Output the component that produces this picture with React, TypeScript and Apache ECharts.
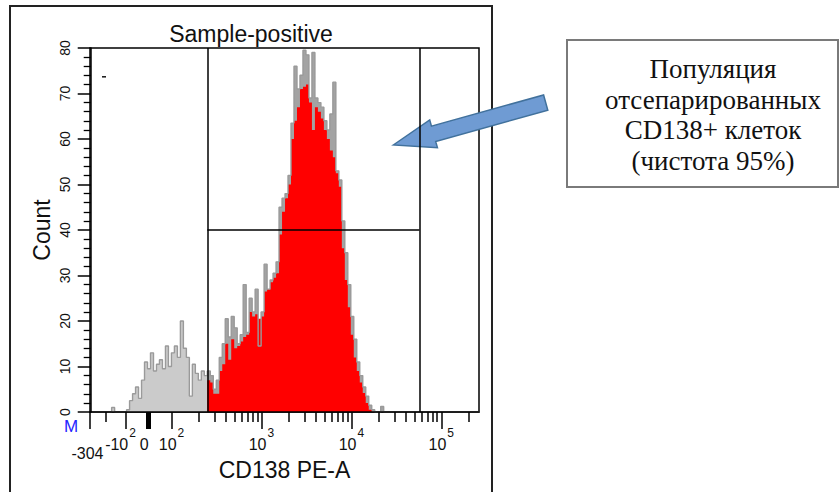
import { useEffect, useRef } from "react";
import * as echarts from "echarts";

// ---------- data ----------
// Histogram of all events, 130 display bins (bin k covers channels [k, k+1])
const GRAY_COUNTS = [
  0, 0, 0, 0, 0, 0, 0, 1, 0, 0,
  0, 0, 0.5, 2.5, 4, 5.5, 3, 7, 11, 9.5,
  13, 9, 10.5, 11.5, 9.5, 14.5, 10, 13, 14.5, 12,
  20, 14, 12, 3.5, 10.5, 8.5, 7, 9, 8, 9,
  8, 5, 7, 12, 15, 20.5, 16.5, 21, 18.5, 15,
  17, 28, 17.5, 25, 22, 27, 14.5, 22, 32.5, 27,
  29, 30.5, 33, 45, 47, 48, 52, 63.5, 76, 71,
  74, 79.5, 78.5, 69, 79, 69, 68, 67, 64, 62,
  65.5, 72.5, 53, 51, 42, 35, 28, 21, 16, 11,
  8, 5.5, 3.5, 1.5, 0.5, 0, 0, 1.2, 0, 0,
  0, 0, 0, 0, 0, 0, 0, 0, 0, 0,
  0, 0, 0, 0, 0, 0, 0, 0, 0, 0,
  0, 0, 0, 0, 0, 0, 0, 0, 0, 0,
];
// Gated (CD138+) population, starting at bin RED_START_BIN
const RED_START_BIN = 39;
const RED_COUNTS = [
  7, 6.5, 4, 4, 9, 10.5, 15, 11.5, 16, 14,
  14.5, 15.5, 16.5, 17, 22, 21, 21.5, 20.5, 21, 26.5,
  27, 28.5, 29.5, 30.5, 39, 44, 47, 50, 60, 64,
  67, 71, 71.5, 72, 68, 62, 67, 66, 64.5, 62,
  60, 57.5, 56, 52.5, 49.5, 36, 29, 23, 17, 12,
  9, 6.5, 4.2, 2, 0.5,
];
// Gate (marker) limits in CD138 PE-A units, and its count level
const GATE_VALUES = [250, 57000];
const GATE_COUNT_LEVEL = 40;

// Axis ticks
const X_LABEL_VALUES = [-304, -100, 0, 100, 1000, 10000, 100000];
const X_LABEL_TEXTS = ["-304", "-10^2", "0", "10^2", "10^3", "10^4", "10^5"];
const X_MINOR_VALUES = [
  -200, 200, 300, 400, 500, 600, 700, 800, 900,
  2000, 3000, 4000, 5000, 6000, 7000, 8000, 9000,
  20000, 30000, 40000, 50000, 60000, 70000, 80000, 90000, 200000,
];
const X_ZERO_MARK = [0];
const X_RANGE = [-304, 262143];
const Y_MIN = 0;
const Y_MAX = 80;
const Y_STEP = 10;

const TITLE = "Sample-positive";
const X_NAME = "CD138 PE-A";
const Y_NAME = "Count";
const NOTE_LINES = ["Популяция", "отсепарированных", "CD138+ клеток", "(чистота 95%)"];

// ---------- biexponential display scale (value -> display channel) ----------
const NBINS = GRAY_COUNTS.length;
const ZERO_CH = 19.39;
const LIN_GAIN = 17.41;
const LIN_WIDTH = 220;
const LOG_FROM = 100;
const DECADE_CH = 30.08;
const CH_LOG_FROM = ZERO_CH + LIN_GAIN * Math.asinh(LOG_FROM / LIN_WIDTH);
function toChannel(v: number): number {
  if (v < LOG_FROM) return ZERO_CH + LIN_GAIN * Math.asinh(v / LIN_WIDTH);
  return CH_LOG_FROM + DECADE_CH * Math.log10(v / LOG_FROM);
}

const SANS = "Liberation Sans, Arial, sans-serif";
const SERIF = "Liberation Serif, Times New Roman, serif";

export default function App() {
  const ref = useRef<HTMLDivElement>(null);

  useEffect(() => {
    if (!ref.current) return;
    const chart = echarts.init(ref.current, undefined, { renderer: "svg" });

    const xMin = toChannel(X_RANGE[0]);
    const xMax = toChannel(X_RANGE[1]);
    const labelCh = X_LABEL_VALUES.map(toChannel);
    const minorCh = X_MINOR_VALUES.map(toChannel);
    const zeroCh = X_ZERO_MARK.map(toChannel);
    const gateL = toChannel(GATE_VALUES[0]);
    const gateH = toChannel(GATE_VALUES[1]);
    const gateHBin = Math.ceil(gateH);

    const grayPts: number[][] = GRAY_COUNTS.map((c, k) => [k, c]);
    grayPts.push([NBINS, 0]);
    const gatedGrayPts: number[][] = [];
    for (let k = RED_START_BIN; k < gateHBin; k++) gatedGrayPts.push([k, GRAY_COUNTS[k]]);
    gatedGrayPts.push([gateHBin, 0]);
    const redPts: number[][] = RED_COUNTS.map((c, i) => [RED_START_BIN + i, c]);
    redPts.push([RED_START_BIN + RED_COUNTS.length, 0]);

    const xBase = {
      type: "value" as const,
      min: xMin,
      max: xMax,
      gridIndex: 0,
      position: "bottom" as const,
      splitLine: { show: false },
      z: 10,
    };

    // arrow geometry
    const tip = [393.3, 145];
    const tail = [545.7, 102.6];
    const shaftHalf = 7.9;
    const headHalf = 14.4;
    const headLen = 41.8;
    const dx = tail[0] - tip[0];
    const dy = tail[1] - tip[1];
    const len = Math.hypot(dx, dy);
    const ux = dx / len;
    const uy = dy / len;
    const nx = -uy;
    const ny = ux;
    const bx = tip[0] + ux * headLen;
    const by = tip[1] + uy * headLen;
    const arrowPts = [
      [tip[0], tip[1]],
      [bx - nx * headHalf, by - ny * headHalf],
      [bx - nx * shaftHalf, by - ny * shaftHalf],
      [tail[0] - nx * shaftHalf, tail[1] - ny * shaftHalf],
      [tail[0] + nx * shaftHalf, tail[1] + ny * shaftHalf],
      [bx + nx * shaftHalf, by + ny * shaftHalf],
      [bx + nx * headHalf, by + ny * headHalf],
    ];

    const txt = (id: string, x: number, y: number, text: string, extra: any) => ({
      type: "text",
      id,
      x,
      y,
      silent: true,
      style: {
        text,
        fontFamily: SANS,
        fill: "#111",
        align: "center",
        verticalAlign: "middle",
        textAlign: "center",
        textVerticalAlign: "middle",
        ...extra,
      },
    });

    const option: any = {
      animation: false,
      backgroundColor: "#ffffff",
      textStyle: { fontFamily: SANS },
      grid: {
        left: 90,
        top: 48,
        width: 389,
        height: 364,
        show: true,
        borderColor: "#000",
        borderWidth: 1.5,
        backgroundColor: "rgba(0,0,0,0)",
        containLabel: false,
        outerBoundsMode: "none",
      },
      xAxis: [
        {
          ...xBase,
          axisLine: { show: true, lineStyle: { color: "#000", width: 1.5 } },
          axisTick: {
            show: true,
            customValues: labelCh,
            length: 17,
            lineStyle: { color: "#000", width: 1.5 },
          },
          axisLabel: { show: false },
          name: X_NAME,
          nameLocation: "middle",
          nameGap: 46,
          nameTextStyle: { fontSize: 23, color: "#111", fontFamily: SANS },
        },
        {
          ...xBase,
          axisLine: { show: false },
          axisTick: { show: true, customValues: minorCh, length: 10, lineStyle: { color: "#000", width: 1.5 } },
          axisLabel: { show: false },
        },
        {
          ...xBase,
          axisLine: { show: false },
          axisTick: { show: true, customValues: zeroCh, length: 17, lineStyle: { color: "#000", width: 5 } },
          axisLabel: { show: false },
        },
      ],
      yAxis: {
        type: "value",
        min: Y_MIN,
        max: Y_MAX,
        interval: Y_STEP,
        z: 10,
        axisLine: { show: true, lineStyle: { color: "#000", width: 1.5 } },
        axisTick: { show: true, length: 13, lineStyle: { color: "#000", width: 1.5 } },
        minorTick: { show: true, splitNumber: 5, length: 7, lineStyle: { color: "#000", width: 1.3 } },
        splitLine: { show: false },
        minorSplitLine: { show: false },
        axisLabel: { rotate: 90, margin: 18, fontSize: 14, color: "#111", fontFamily: SANS },
        name: Y_NAME,
        nameLocation: "middle",
        nameRotate: 90,
        nameGap: 37,
        nameTextStyle: { fontSize: 23, color: "#111", fontFamily: SANS },
      },
      series: [
        {
          name: "all-fill",
          type: "line",
          step: "end",
          symbol: "none",
          silent: true,
          data: grayPts,
          lineStyle: { width: 0, opacity: 0 },
          areaStyle: { color: "#cbcbcb", opacity: 1 },
        },
        {
          name: "gated-all-fill",
          type: "line",
          step: "end",
          symbol: "none",
          silent: true,
          data: gatedGrayPts,
          lineStyle: { width: 0, opacity: 0 },
          areaStyle: { color: "#a3a3a3", opacity: 1 },
        },
        {
          name: "gated",
          type: "line",
          step: "end",
          symbol: "none",
          silent: true,
          data: redPts,
          lineStyle: { width: 0, opacity: 0 },
          areaStyle: { color: "#ff0000", opacity: 1 },
        },
        {
          name: "all-outline",
          type: "line",
          step: "end",
          symbol: "none",
          silent: true,
          data: grayPts,
          lineStyle: { color: "#9a9a9a", width: 1.4 },
          markLine: {
            silent: true,
            symbol: ["none", "none"],
            label: { show: false },
            lineStyle: { color: "#000", width: 1.5, type: "solid" },
            emphasis: { disabled: true },
            data: [
              [{ coord: [gateL, Y_MIN] }, { coord: [gateL, Y_MAX] }],
              [{ coord: [gateH, Y_MIN] }, { coord: [gateH, Y_MAX] }],
              [{ coord: [gateL, GATE_COUNT_LEVEL] }, { coord: [gateH, GATE_COUNT_LEVEL] }],
            ],
          },
        },
      ],
      graphic: [
        {
          type: "polyline",
          id: "frame",
          silent: true,
          shape: { points: [[10, 500], [10, 6], [492, 6], [492, 500]] },
          style: { stroke: "#222", lineWidth: 2, fill: null },
        },
        txt("title", 251, 34, TITLE, { fontSize: 23 }),
        txt("marker-m", 71, 426, "M", { fontSize: 17, fill: "#2424ff" }),
        {
          type: "rect",
          id: "dash",
          silent: true,
          shape: { x: 102, y: 76, width: 4, height: 1.6 },
          style: { fill: "#222" },
        },
        {
          type: "rect",
          id: "note-box",
          silent: true,
          shape: { x: 567, y: 40, width: 271, height: 147 },
          style: { fill: "#fff", stroke: "#7a7a7a", lineWidth: 2 },
        },
        txt("note", 713, 115, NOTE_LINES.join("\n"), {
          fontSize: 27,
          lineHeight: 30.7,
          fontFamily: SERIF,
        }),
        {
          type: "polygon",
          id: "arrow",
          silent: true,
          shape: { points: arrowPts },
          style: { fill: "#6f9bd3", stroke: "#41719c", lineWidth: 1.5 },
        },
      ],
    };

    chart.setOption(option);

    // x tick labels (biexponential axis), placed through the axis' own scale
    const labelEls: any[] = [];
    X_LABEL_TEXTS.forEach((t, i) => {
      const px = chart.convertToPixel({ xAxisIndex: 0 }, labelCh[i]) as number;
      const [base, sup] = t.split("^");
      if (sup) {
        const neg = base.startsWith("-");
        labelEls.push(
          txt(`xl-b-${i}`, px + (neg ? 2.5 : 5), 444, base, {
            fontSize: 16,
            align: "right",
            textAlign: "right",
          })
        );
        labelEls.push(
          txt(`xl-s-${i}`, px + (neg ? 3.5 : 6), 433, sup, {
            fontSize: 12,
            align: "left",
            textAlign: "left",
          })
        );
      } else {
        const low = i === 0;
        labelEls.push(txt(`xl-${i}`, px + (low ? -2.5 : -4.5), low ? 453 : 444, base, { fontSize: 16 }));
      }
    });
    chart.setOption({ graphic: labelEls });

    return () => chart.dispose();
  }, []);

  return (
    <div
      ref={ref}
      style={{ position: "absolute", left: 0, top: 0, width: 839, height: 492, background: "#fff" }}
    />
  );
}
